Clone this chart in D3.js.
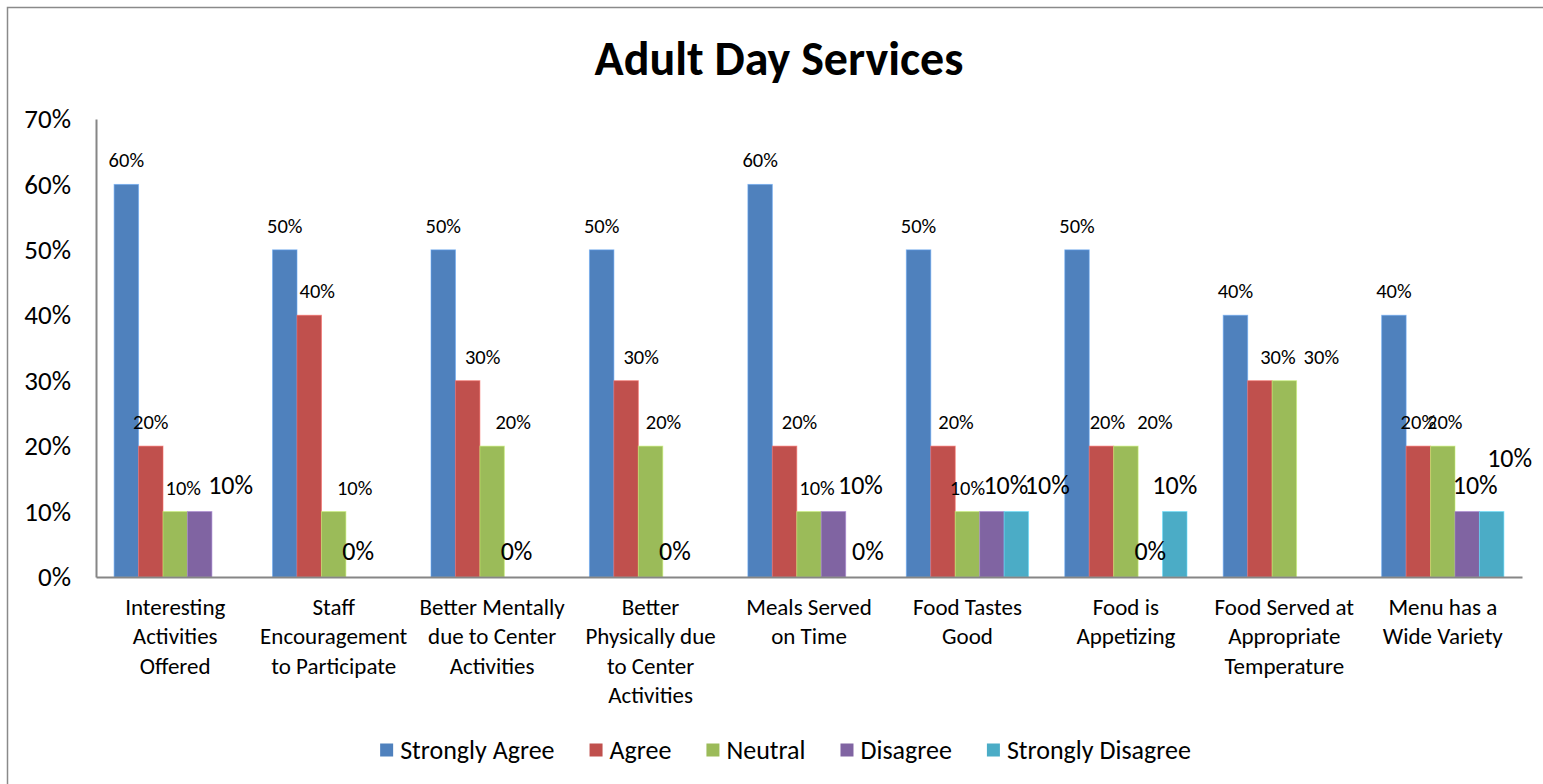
<!DOCTYPE html>
<html>
<head>
<meta charset="utf-8">
<script src="https://cdn.jsdelivr.net/npm/d3@7"></script>
<style>
  html, body { margin: 0; padding: 0; background: #fff; }
  svg { display: block; }
  text { font-family: Carlito, Calibri, Lato, "Open Sans", sans-serif; fill: #000; }
</style>
</head>
<body>
<svg id="chart" width="1543" height="784"></svg>
<script>
// Survey answers per question, as shares of respondents (null = no answer recorded)
const categoryLines = [
  ["Interesting", "Activities", "Offered"],
  ["Staff", "Encouragement", "to Participate"],
  ["Better Mentally", "due to Center", "Activities"],
  ["Better", "Physically due", "to Center", "Activities"],
  ["Meals Served", "on Time"],
  ["Food Tastes", "Good"],
  ["Food is", "Appetizing"],
  ["Food Served at", "Appropriate", "Temperature"],
  ["Menu has a", "Wide Variety"]
];
const seriesNames = ["Strongly Agree", "Agree", "Neutral", "Disagree", "Strongly Disagree"];
const stronglyAgree    = [0.6, 0.5, 0.5, 0.5, 0.6, 0.5, 0.5, 0.4, 0.4];
const agree            = [0.2, 0.4, 0.3, 0.3, 0.2, 0.2, 0.2, 0.3, 0.2];
const neutral          = [0.1, 0.1, 0.2, 0.2, 0.1, 0.1, 0.2, 0.3, 0.2];
const disagree         = [0.1, 0, 0, 0, 0.1, 0.1, 0, null, 0.1];
const stronglyDisagree = [null, null, null, null, 0, 0.1, 0.1, null, 0.1];
const yTickValues = [0, 0.1, 0.2, 0.3, 0.4, 0.5, 0.6, 0.7];

const seriesValues = [stronglyAgree, agree, neutral, disagree, stronglyDisagree];
const colors = ["#4F81BD", "#C0504D", "#9BBB59", "#8064A2", "#4BACC6"];

// Data-label placement: horizontal nudge (px) of each label off its bar centre
const labelNudge = [
  [0, 0, 0, 0, 0, 0, 0, 0, 0],
  [0, 8, 15, 15, 15, 13, 6, 18, 0],
  [8, 21, 21, 13, 8, 0, 29, 37, 2],
  [31, 0, 0, 0, 27, 14, 0, 0, 8],
  [0, 0, 0, 0, 10, 31, 0, 0, 18]
];
// extra lift (px) for labels stacked above a neighbouring label
const labelLift = [
  [0, 0, 0, 0, 0, 0, 0, 0, 0],
  [0, 0, 0, 0, 0, 0, 0, 0, 0],
  [0, 0, 0, 0, 0, 0, 0, 0, 0],
  [0, 0, 0, 0, 0, 0, 0, 0, 0],
  [0, 0, 0, 0, 0, 0, 0, 0, 27]
];

const svg = d3.select("#chart");
const W = 1543, H = 784;
const plot = { left: 96, right: 1522, top: 119, bottom: 577 };

// chart frame (top and left edges visible)
svg.append("path")
  .attr("d", `M7.5,${H} V7.5 H${W}`)
  .attr("fill", "none")
  .attr("stroke", "#8a8a8a")
  .attr("stroke-width", 1.5);

// title
svg.append("text")
  .attr("x", 779)
  .attr("y", 75)
  .attr("text-anchor", "middle")
  .style("font-size", "48px")
  .style("font-weight", "bold")
  .text("Adult Day Services");

const x0 = d3.scaleBand()
  .domain(d3.range(categoryLines.length))
  .range([plot.left, plot.right])
  .paddingInner(0.2287)
  .paddingOuter(0.2287 / 2);

const x1 = d3.scaleBand()
  .domain(d3.range(seriesNames.length))
  .range([0, x0.bandwidth()]);

const y = d3.scaleLinear().domain([0, 0.7]).range([plot.bottom, plot.top]);

// y axis
const yAxis = svg.append("g")
  .attr("transform", `translate(${plot.left},0)`)
  .call(d3.axisLeft(y).tickValues(yTickValues).tickFormat(d3.format(".0%"))
    .tickSize(0).tickSizeOuter(0).tickPadding(25));
yAxis.select(".domain").attr("stroke", "#868686").attr("stroke-width", 2);
yAxis.selectAll(".tick text")
  .style("font-size", "27px")
  .attr("font-family", null);

// bars
const groups = svg.append("g").selectAll("g")
  .data(categoryLines.map((_, i) => i))
  .join("g")
  .attr("transform", i => `translate(${x0(i)},0)`);

groups.selectAll("rect")
  .data(i => seriesValues.map((vals, s) => ({ s, i, v: vals[i] })).filter(d => d.v !== null && d.v > 0))
  .join("rect")
  .attr("x", d => x1(d.s))
  .attr("y", d => y(d.v))
  .attr("width", x1.bandwidth())
  .attr("height", d => y(0) - y(d.v))
  .attr("fill", d => colors[d.s])
  .attr("stroke", d => d3.color(colors[d.s]).brighter(0.7))
  .attr("stroke-opacity", 0.6)
  .attr("stroke-width", 1);

// x axis line
const xAxis = svg.append("g")
  .attr("transform", `translate(0,${plot.bottom})`)
  .call(d3.axisBottom(x0).tickSize(0).tickSizeOuter(0).tickFormat(""));
xAxis.select(".domain").attr("stroke", "#868686").attr("stroke-width", 2);

// category labels
xAxis.selectAll(".tick text").remove();
xAxis.selectAll(".tick").each(function (i) {
  const t = d3.select(this).append("text")
    .attr("text-anchor", "middle")
    .style("font-size", "23px");
  categoryLines[i].forEach((line, k) => {
    t.append("tspan").attr("x", 0).attr("y", 38 + k * 29.3).text(line);
  });
});

// data labels
const fmt = d3.format(".0%");
const labels = [];
seriesValues.forEach((vals, s) => {
  vals.forEach((v, i) => {
    if (v === null) return;
    labels.push({ s, i, v });
  });
});
svg.append("g").selectAll("text")
  .data(labels)
  .join("text")
  .attr("x", d => x0(d.i) + x1(d.s) + x1.bandwidth() / 2 + labelNudge[d.s][d.i])
  .attr("y", d => y(d.v) - (d.s >= 3 ? 26.5 : 24) - labelLift[d.s][d.i])
  .attr("text-anchor", "middle")
  .attr("dominant-baseline", "central")
  .style("font-size", d => d.s >= 3 ? "26px" : "20.5px")
  .text(d => fmt(d.v));

// legend
const legend = svg.append("g").attr("transform", "translate(0,750)");
const items = legend.selectAll("g").data(seriesNames).join("g");
items.append("rect")
  .attr("y", -6.5).attr("width", 13).attr("height", 13)
  .attr("fill", (d, s) => colors[s]);
items.append("text")
  .attr("x", 20)
  .attr("dominant-baseline", "central")
  .style("font-size", "26px")
  .text(d => d);
const gap = 35;
let cursor = 0;
const offsets = [];
items.each(function () {
  offsets.push(cursor);
  cursor += this.getBBox().width + gap;
});
const total = cursor - gap;
const start = 785.5 - total / 2;
items.attr("transform", (d, s) => `translate(${start + offsets[s]},0)`);
</script>
</body>
</html>
